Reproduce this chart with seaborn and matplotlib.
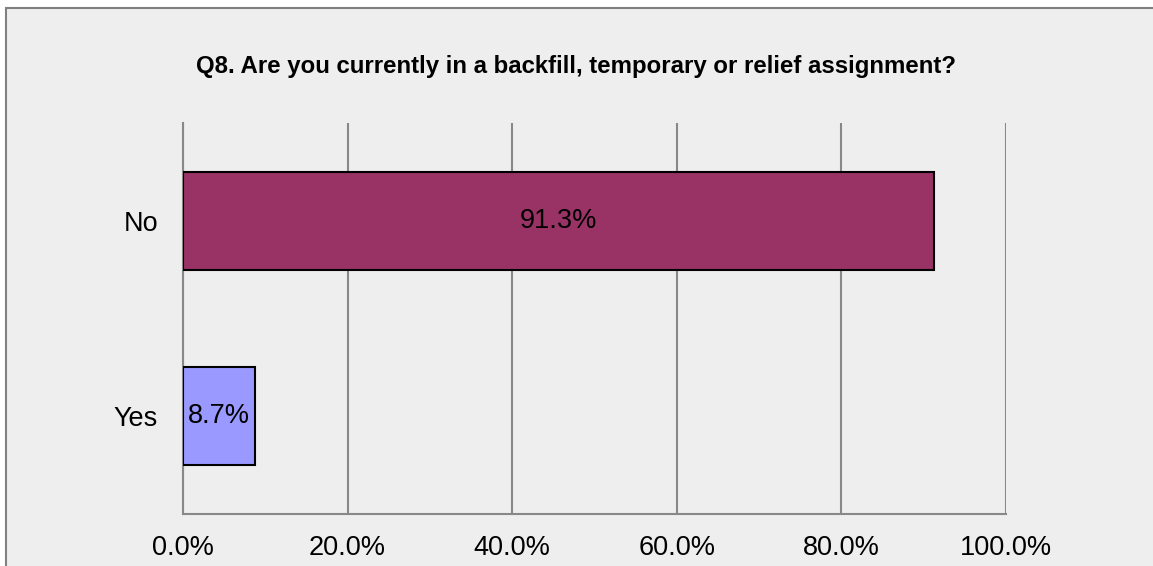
import pandas as pd
import matplotlib.pyplot as plt
import seaborn as sns
from matplotlib.patches import Rectangle
from matplotlib.ticker import FuncFormatter, FixedLocator

answers = ['No', 'Yes']
shares = [91.3, 8.7]
bar_colors = ['#993366', '#9999ff']
title = 'Q8. Are you currently in a backfill, temporary or relief assignment?'

sns.set_style('white')
plt.rcParams['font.family'] = ['Liberation Sans', 'DejaVu Sans']
plt.rcParams['text.color'] = 'black'
plt.rcParams['xtick.labelcolor'] = 'black'
plt.rcParams['ytick.labelcolor'] = 'black'

df = pd.DataFrame({'answer': answers, 'share': shares})

fig = plt.figure(figsize=(11.53, 5.66), dpi=100, facecolor='white')
# chart area background with grey frame (right/bottom run off the image)
fig.patches.append(Rectangle((6 / 1153, -0.05), 1.1, 1 - 8 / 566 + 0.05,
                             transform=fig.transFigure, facecolor='#eeeeee',
                             edgecolor='#808080', linewidth=1.5, zorder=-5))

ax = fig.add_axes([183 / 1153, 1 - 514 / 566, 823 / 1153, 391 / 566])
ax.set_facecolor('none')

sns.barplot(data=df, y='answer', x='share', hue='answer', palette=bar_colors,
            orient='h', width=0.5, saturation=1, edgecolor='black',
            linewidth=1.5, legend=False, ax=ax, zorder=3)

for i, v in enumerate(shares):
    ax.text(v / 2, i, f'{v:.1f}%', ha='center', va='center', fontsize=19.5,
            color='black', zorder=4)

ax.set_xlim(0, 100)
ax.set_ylim(1.5, -0.5)
ax.xaxis.set_major_locator(FixedLocator([0, 20, 40, 60, 80, 100]))
ax.xaxis.set_major_formatter(FuncFormatter(lambda x, _: f'{x:.1f}%'))
ax.grid(axis='x', color='#888888', linewidth=1.5, zorder=1)
ax.set_axisbelow(True)

ax.yaxis.set_minor_locator(FixedLocator([-0.5, 0.5, 1.5]))
ax.tick_params(axis='y', which='major', length=0, labelsize=19.5, pad=18)
ax.tick_params(axis='y', which='minor', length=8, width=1.5, color='#888888')
ax.tick_params(axis='x', which='major', length=8, width=1.5, color='#888888',
               labelsize=19.5, pad=7)

for side in ['top', 'right']:
    ax.spines[side].set_visible(False)
for side in ['left', 'bottom']:
    ax.spines[side].set_color('#888888')
    ax.spines[side].set_linewidth(1.5)

ax.set_xlabel('')
ax.set_ylabel('')
fig.text(0.5, 1 - 67 / 566, title, ha='center', va='center', fontsize=17.3,
         fontweight='bold')

fig.savefig('out.png', dpi=100, facecolor='white')
